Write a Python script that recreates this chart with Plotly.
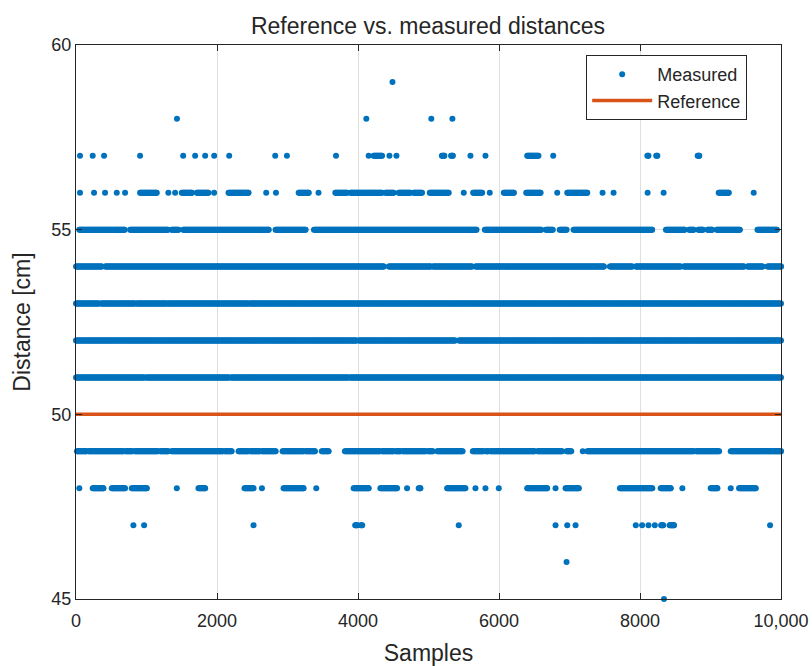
import plotly.graph_objects as go

# ---------------- data ----------------
# Each measured level lists the sample ranges [start, end] where points are present.
runs_45 = [[8340, 8340]]
runs_46 = [[6958, 6958]]
runs_47 = [[814, 814], [966, 966], [2518, 2518], [3960, 3990], [4040, 4060], [5429, 5429],
           [6802, 6802], [6968, 6968], [7086, 7086], [7940, 7940], [8030, 8030],
           [8120, 8120], [8210, 8210], [8300, 8330], [8420, 8482], [9845, 9845]]
runs_48 = [[47, 47], [237, 388], [507, 696], [791, 1004], [1430, 1430], [1737, 1832],
           [2390, 2518], [2637, 2637], [2944, 3228], [3408, 3408], [3938, 4151],
           [4317, 4554], [4696, 4696], [4861, 4885], [5264, 5524], [5666, 5666],
           [5808, 5808], [5997, 5997], [6400, 6683], [6802, 6802], [6944, 7133],
           [7715, 8175], [8293, 8435], [8601, 8601], [9003, 9098], [9287, 9287],
           [9405, 9642]]
runs_49 = [[13, 145], [177, 668], [701, 800], [832, 1160], [1193, 1304], [1356, 2077],
           [2110, 2208], [2306, 2438], [2471, 2602], [2634, 2832], [2930, 3224],
           [3256, 3388], [3486, 3584], [3814, 4305], [4338, 4501], [4534, 4601],
           [4633, 4960], [4993, 5059], [5125, 5484], [5629, 5779], [5812, 5845],
           [5879, 6501], [6546, 6894], [6958, 7025], [7188, 7188], [7253, 8761],
           [8794, 9122], [9287, 10000]]
runs_51 = [[0, 970], [995, 2175], [2200, 3855], [3880, 10000]]
runs_52 = [[0, 3980], [4010, 5380], [5430, 10000]]
runs_53 = [[0, 330], [355, 830], [855, 1280], [1300, 2440], [2460, 10000]]
runs_54 = [[0, 365], [412, 4364], [4436, 5027], [5060, 5619], [5666, 7488],
           [7573, 7891], [7938, 8577], [8619, 9476], [9524, 9737], [9808, 10000]]
runs_55 = [[46, 688], [767, 1304], [1356, 1455], [1520, 2733], [2831, 3257],
           [3375, 5681], [5799, 6599], [6664, 6763], [6861, 6959], [7058, 8172],
           [8368, 8630], [8696, 8761], [8827, 8893], [8958, 9024], [9089, 9417],
           [9666, 9941]]
runs_56 = [[57, 57], [256, 256], [412, 412], [578, 578], [696, 696], [909, 1145],
           [1310, 1310], [1406, 1406], [1500, 1642], [1713, 1878], [1959, 1959],
           [2163, 2447], [2698, 2698], [2836, 2836], [3158, 3300], [3440, 3440],
           [3678, 3844], [3891, 4341], [4388, 4506], [4577, 4743], [4790, 4909],
           [5017, 5287], [5500, 5500], [5633, 5761], [5869, 5869], [6068, 6210],
           [6386, 6589], [6826, 6826], [6968, 7252], [7469, 7469], [7625, 7625],
           [8108, 8108], [8335, 8335], [9116, 9258], [9613, 9613]]
runs_57 = [[57, 57], [237, 237], [398, 398], [909, 909], [1520, 1520], [1690, 1690],
           [1832, 1832], [1960, 1960], [2173, 2173], [2826, 2826], [2992, 2992],
           [3688, 3688], [4151, 4151], [4222, 4341], [4446, 4446], [4545, 4545],
           [5190, 5225], [5320, 5345], [5595, 5595], [5808, 5808], [6400, 6560],
           [6769, 6769], [8104, 8120], [8230, 8246], [8818, 8840]]
runs_58 = [[1432, 1432], [4118, 4118], [5040, 5040], [5339, 5339]]
runs_59 = [[4489, 4489]]

levels = [45, 46, 47, 48, 49, 51, 52, 53, 54, 55, 56, 57, 58, 59]
level_runs = [runs_45, runs_46, runs_47, runs_48, runs_49, runs_51, runs_52, runs_53,
              runs_54, runs_55, runs_56, runs_57, runs_58, runs_59]

reference_value = 50
sample_span = [0, 10000]

x_ticks = [0, 2000, 4000, 6000, 8000, 10000]
x_tick_labels = ["0", "2000", "4000", "6000", "8000", "10,000"]
y_ticks = [45, 50, 55, 60]

# ---------------- build the measured point list ----------------
STEP = 10
mx, my = [], []
for lvl, runs in zip(levels, level_runs):
    for a, b in runs:
        s = list(range(a, b + 1, STEP))
        if s[-1] != b:
            s.append(b)
        mx.extend(s)
        my.extend([lvl] * len(s))

FONT = "Liberation Sans, Arial, sans-serif"
TXT = "#262626"
BLUE = "#0072BD"
ORANGE = "#D95319"

fig = go.Figure()
fig.add_trace(go.Scatter(
    x=mx, y=my, mode="markers", name="Measured",
    marker=dict(color=BLUE, size=6, line=dict(width=0)),
    cliponaxis=False,
))
fig.add_trace(go.Scatter(
    x=sample_span, y=[reference_value] * len(sample_span), mode="lines", name="Reference",
    line=dict(color=ORANGE, width=3.5),
    cliponaxis=False,
))

axis_common = dict(
    ticks="inside", ticklen=6, tickcolor=TXT, tickwidth=1,
    showline=True, linecolor=TXT, linewidth=1.2, mirror="ticks",
    showgrid=True, gridcolor="#dfdfdf", gridwidth=1, zeroline=False,
    tickfont=dict(family=FONT, size=18, color=TXT),
    automargin=False,
)

fig.update_layout(
    width=812, height=666,
    margin=dict(l=76, r=31, t=45, b=67),
    paper_bgcolor="white", plot_bgcolor="white",
    title=dict(text="Reference vs. measured distances", x=428 / 812, xanchor="center",
               y=1 - 26 / 666, yanchor="middle",
               font=dict(family=FONT, size=23, color=TXT)),
    xaxis=dict(range=sample_span, tickvals=x_ticks, ticktext=x_tick_labels,
               ticklabelstandoff=5,
               title=dict(text="Samples", font=dict(family=FONT, size=23, color=TXT), standoff=20),
               **axis_common),
    yaxis=dict(range=[45, 60], tickvals=y_ticks,
               title=dict(text="Distance [cm]", font=dict(family=FONT, size=23, color=TXT), standoff=14),
               **axis_common),
    legend=dict(x=0.952, y=0.982, xanchor="right", yanchor="top",
                bordercolor=TXT, borderwidth=1, bgcolor="white",
                font=dict(family=FONT, size=18, color=TXT),
                tracegroupgap=0, itemwidth=60),
    showlegend=True,
)

fig.write_html("out.html")
